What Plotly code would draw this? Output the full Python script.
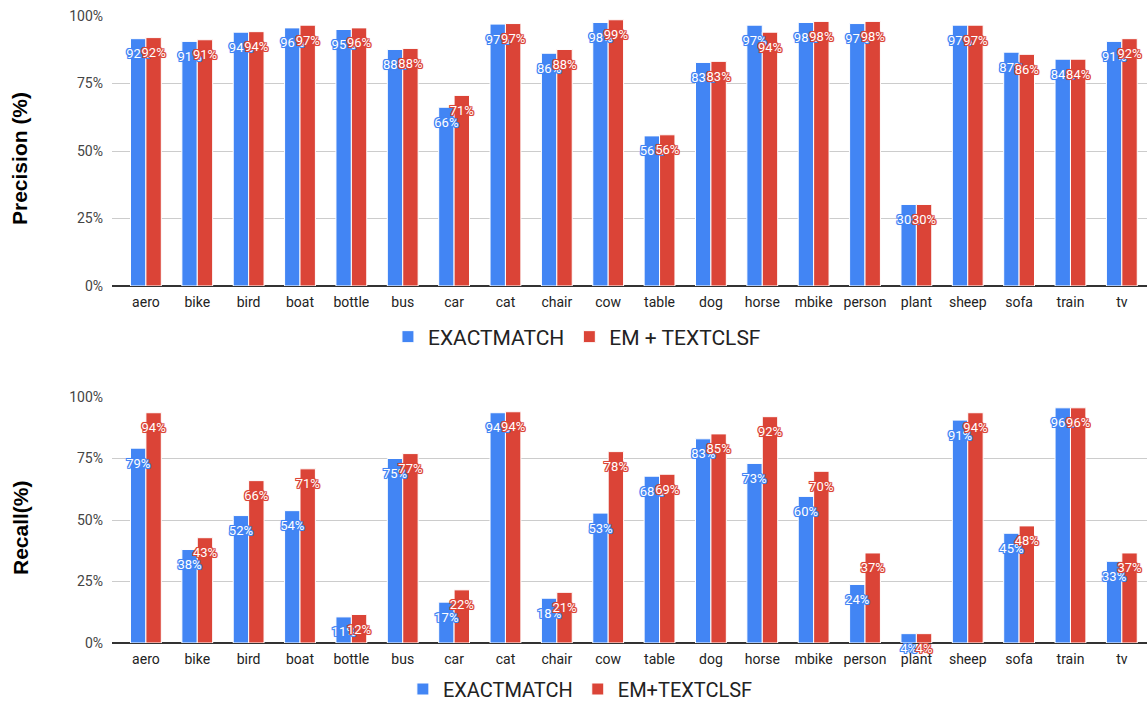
import plotly.graph_objects as go

categories = ["aero", "bike", "bird", "boat", "bottle", "bus", "car", "cat", "chair", "cow",
              "table", "dog", "horse", "mbike", "person", "plant", "sheep", "sofa", "train", "tv"]

precision_em = [91.6, 90.6, 94.0, 95.6, 95.0, 87.6, 66.2, 97.0, 86.2, 97.6,
                55.6, 82.8, 96.6, 97.6, 97.2, 30.2, 96.6, 86.6, 84.0, 90.6]
precision_emtc = [92.0, 91.2, 94.2, 96.6, 95.6, 88.0, 70.6, 97.2, 87.6, 98.6,
                  56.0, 83.2, 94.0, 98.0, 98.0, 30.2, 96.6, 85.8, 84.0, 91.6]

recall_em = [79.2, 38.0, 51.8, 53.8, 10.6, 75.0, 16.6, 93.6, 18.2, 52.8,
             67.8, 83.0, 73.0, 59.6, 23.8, 3.8, 90.6, 44.6, 95.6, 33.2]
recall_emtc = [93.6, 42.8, 66.0, 70.8, 11.6, 77.0, 21.6, 94.0, 20.6, 77.8,
               68.6, 85.0, 92.0, 69.8, 36.6, 3.8, 93.6, 47.6, 95.6, 36.6]

y_ticks = [0, 25, 50, 75, 100]
y_tick_labels = ["0%", "25%", "50%", "75%", "100%"]

top_names = ["EXACTMATCH", "EM + TEXTCLSF"]
bottom_names = ["EXACTMATCH", "EM+TEXTCLSF"]

BLUE = "#4285F4"
RED = "#DB4437"
W = 1147
H = 712  # a few px taller than the 702 window; only empty legend padding falls below


def halo(c):
    return ", ".join([f"{dx}px {dy}px 0 {c}" for dx in (-1, 0, 1) for dy in (-1, 0, 1)
                      if (dx, dy) != (0, 0)]) + f", 0 0 2px {c}"


def labels(vals):
    return [f"{v:.0f}%" for v in vals]


def fy(px):
    return (H - px) / H


fig = go.Figure()

panels = [
    ("x", "y", [precision_em, precision_emtc], top_names, "legend"),
    ("x2", "y2", [recall_em, recall_emtc], bottom_names, "legend2"),
]

for xa, ya, series, names, leg in panels:
    for vals, name, col in zip(series, names, [BLUE, RED]):
        fig.add_trace(go.Bar(
            x=categories, y=vals, name=name, xaxis=xa, yaxis=ya,
            marker=dict(color=col, line=dict(color="white", width=1)),
            legend=leg, hoverinfo="skip",
        ))
    for vals, col in zip(series, [BLUE, RED]):
        fig.add_trace(go.Scatter(
            x=categories, y=vals, xaxis=xa, yaxis=ya,
            mode="markers+text", text=labels(vals), textposition="bottom center",
            marker=dict(size=14, color="rgba(0,0,0,0)"),
            textfont=dict(family="Roboto", size=13, color="white", shadow=halo(col)),
            showlegend=False, hoverinfo="skip", cliponaxis=False,
        ))

x0 = 112 / W
common_x = dict(type="category", range=[-0.66, 19.49], showgrid=False, ticks="",
                tickfont=dict(family="Roboto", size=14, color="#222222"),
                ticklabelstandoff=6, showline=False, zeroline=False, fixedrange=True,
                automargin=False)
common_y = dict(range=[0, 100], tickvals=y_ticks, ticktext=y_tick_labels,
                showgrid=True, gridcolor="#cccccc", gridwidth=1,
                zeroline=True, zerolinecolor="#333333", zerolinewidth=1.5,
                ticks="", ticklabelstandoff=8,
                tickfont=dict(family="Roboto", size=14, color="#444444"),
                showline=False, fixedrange=True, automargin=False)

fig.update_layout(
    width=W, height=H,
    margin=dict(l=0, r=0, t=0, b=0, autoexpand=False),
    paper_bgcolor="white", plot_bgcolor="white",
    barmode="group", bargap=0.4, bargroupgap=0.0,
    scattermode="group", scattergap=0.4,
    font=dict(family="Roboto", color="#222222"),
    xaxis=dict(domain=[x0, 1], anchor="y", **common_x),
    xaxis2=dict(domain=[x0, 1], anchor="y2", **common_x),
    yaxis=dict(domain=[fy(286), fy(16)], anchor="x", **common_y),
    yaxis2=dict(domain=[fy(643), fy(397)], anchor="x2", **common_y),
    legend=dict(orientation="h", x=0.503, y=fy(337), xanchor="center", yanchor="middle",
                font=dict(family="Roboto", size=21, color="#222222"), bgcolor="rgba(0,0,0,0)"),
    legend2=dict(orientation="h", x=0.506, y=fy(689), xanchor="center", yanchor="middle",
                 font=dict(family="Roboto", size=20, color="#222222"), bgcolor="rgba(0,0,0,0)"),
    annotations=[
        dict(text="<b>Precision (%)</b>", xref="paper", yref="paper", x=20 / W, y=fy(159),
             textangle=-90, showarrow=False, xanchor="center", yanchor="middle",
             font=dict(family="Liberation Sans", size=21, color="#000000")),
        dict(text="<b>Recall(%)</b>", xref="paper", yref="paper", x=20 / W, y=fy(528),
             textangle=-90, showarrow=False, xanchor="center", yanchor="middle",
             font=dict(family="Liberation Sans", size=21, color="#000000")),
    ],
    hovermode=False,
)

fig.write_html("out.html", config={"displayModeBar": False},
               post_script="document.body.style.margin='0';document.body.style.overflow='hidden';")
